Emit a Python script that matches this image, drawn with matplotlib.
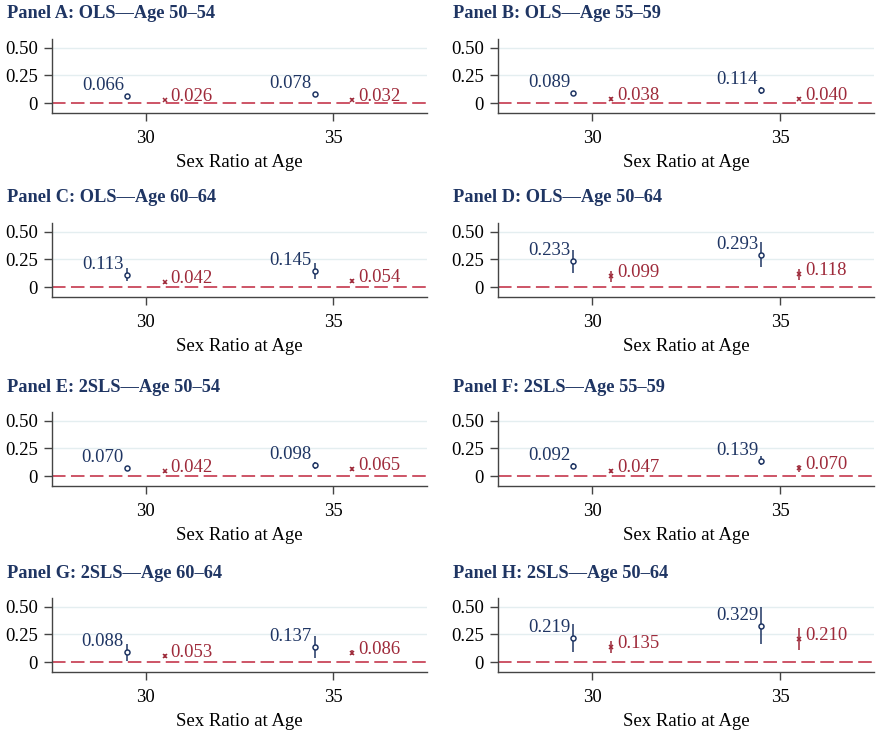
import matplotlib
matplotlib.use("Agg")
import matplotlib.pyplot as plt
import numpy as np

plt.rcParams['font.family'] = ['Liberation Serif', 'DejaVu Serif']

titles = ["Panel A: OLS\u2014Age 50\u201354", "Panel B: OLS\u2014Age 55\u201359",
          "Panel C: OLS\u2014Age 60\u201364", "Panel D: OLS\u2014Age 50\u201364",
          "Panel E: 2SLS\u2014Age 50\u201354", "Panel F: 2SLS\u2014Age 55\u201359",
          "Panel G: 2SLS\u2014Age 60\u201364", "Panel H: 2SLS\u2014Age 50\u201364"]

# sex-ratio-at-age positions (blue series at 29.5/34.5, red series at 30.5/35.5)
x_blue = [29.5, 34.5]
x_red = [30.5, 35.5]

blue_vals = [[0.066, 0.078], [0.089, 0.114], [0.113, 0.145], [0.233, 0.293],
             [0.070, 0.098], [0.092, 0.139], [0.088, 0.137], [0.219, 0.329]]
blue_err = [[0.010, 0.010], [0.020, 0.030], [0.060, 0.070], [0.105, 0.115],
            [0.020, 0.030], [0.025, 0.040], [0.075, 0.100], [0.130, 0.170]]
red_vals = [[0.026, 0.032], [0.038, 0.040], [0.042, 0.054], [0.099, 0.118],
            [0.042, 0.065], [0.047, 0.070], [0.053, 0.086], [0.135, 0.210]]
red_err = [[0.008, 0.010], [0.015, 0.015], [0.015, 0.020], [0.050, 0.050],
           [0.012, 0.015], [0.020, 0.030], [0.020, 0.025], [0.055, 0.100]]

yticks = [0, 0.25, 0.50]
ytick_labels = ["0", "0.25", "0.50"]
xticks = [30, 35]

BLUE = "#1f3563"
RED = "#9e2a3a"
DASH = "#c9475a"
GRID = "#e4eef0"
SPINE = "#444444"

W, H = 876, 730
fig = plt.figure(figsize=(W / 100, H / 100), dpi=100)

col_left = [52, 498]
col_w = [375, 376]
row_top = [39, 223, 412, 598]
ax_h = 74

for i in range(8):
    r, c = divmod(i, 2)
    x0 = col_left[c]
    y0 = row_top[r]
    ax = fig.add_axes([x0 / W, 1 - (y0 + ax_h) / H, col_w[c] / W, ax_h / H])
    ax.set_xlim(27.5, 37.5)
    ax.set_ylim(-0.09, 0.58)
    for yy in [0.25, 0.50]:
        ax.axhline(yy, color=GRID, lw=1.0, zorder=0)
    ax.axhline(0, color=DASH, lw=1.3, dashes=(7.5, 3), zorder=1)
    ax.errorbar(x_blue, blue_vals[i], yerr=blue_err[i], fmt='o', ms=3.6,
                mfc='white', mec=BLUE, mew=1.1, ecolor=BLUE, elinewidth=1.1,
                capsize=0, zorder=3)
    ax.errorbar(x_red, red_vals[i], yerr=red_err[i], fmt='x', ms=3.2,
                mec=RED, mew=1.1, ecolor=RED, elinewidth=1.1, capsize=0, zorder=3)
    for xb, v in zip(x_blue, blue_vals[i]):
        ax.annotate(f"{v:.3f}", (xb, v), xytext=(-3, 6), textcoords='offset pixels',
                    ha='right', va='baseline', color=BLUE, fontsize=13.5)
    for xr, v in zip(x_red, red_vals[i]):
        ax.annotate(f"{v:.3f}", (xr, v), xytext=(6, -1), textcoords='offset pixels',
                    ha='left', va='baseline', color=RED, fontsize=13.5)
    ax.set_yticks(yticks)
    ax.set_yticklabels(ytick_labels)
    ax.set_xticks(xticks)
    ax.tick_params(axis='y', length=6, width=1, color=SPINE, pad=4, labelsize=13.5)
    ax.tick_params(axis='x', length=6, width=1, color=SPINE, pad=6, labelsize=13.5)
    for s in ['top', 'right']:
        ax.spines[s].set_visible(False)
    for s in ['left', 'bottom']:
        ax.spines[s].set_color(SPINE)
        ax.spines[s].set_linewidth(1.0)
    ax.set_xlabel("Sex Ratio at Age", fontsize=13.5, labelpad=5)
    fig.text((7 if c == 0 else 453) / W, 1 - (y0 - 25) / H, titles[i],
             fontsize=13.2, fontweight='bold', color=BLUE, ha='left', va='center')

fig.savefig("out.png", dpi=100)
